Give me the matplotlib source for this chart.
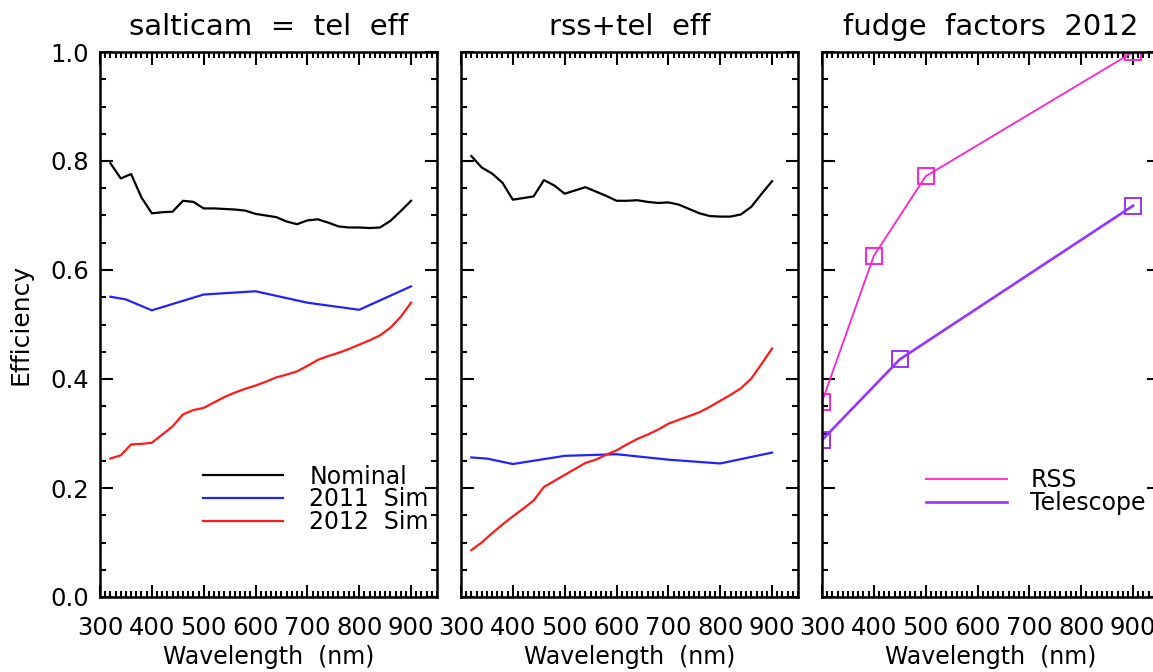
import matplotlib
matplotlib.use("Agg")
from matplotlib import pyplot as plt
import numpy as np

# wavelength grid for the simulated curves (nm)
wave = np.arange(320, 901, 20)

# panel 1: salticam = tel eff
salt_nominal = [0.796, 0.768, 0.776, 0.733, 0.704, 0.706, 0.707, 0.727, 0.725, 0.713,
                0.713, 0.712, 0.711, 0.709, 0.703, 0.700, 0.697, 0.689, 0.684, 0.691,
                0.693, 0.687, 0.680, 0.678, 0.678, 0.677, 0.678, 0.690, 0.708, 0.727]
salt_2012 = [0.254, 0.260, 0.280, 0.281, 0.283, 0.298, 0.313, 0.335, 0.343, 0.347,
             0.357, 0.367, 0.375, 0.382, 0.388, 0.395, 0.403, 0.408, 0.414, 0.424,
             0.435, 0.442, 0.448, 0.455, 0.463, 0.471, 0.480, 0.494, 0.514, 0.540]

# 2011 sims are on a coarser grid
wave_2011 = [320, 350, 400, 500, 600, 700, 800, 900]
salt_2011 = [0.551, 0.546, 0.526, 0.555, 0.561, 0.540, 0.527, 0.570]

# panel 2: rss+tel eff
rss_nominal = [0.809, 0.788, 0.777, 0.760, 0.729, 0.732, 0.735, 0.765, 0.755, 0.740,
               0.746, 0.752, 0.744, 0.736, 0.727, 0.727, 0.728, 0.725, 0.723, 0.724,
               0.720, 0.712, 0.704, 0.699, 0.698, 0.698, 0.702, 0.716, 0.740, 0.763]
rss_2012 = [0.086, 0.100, 0.117, 0.133, 0.148, 0.162, 0.177, 0.202, 0.213, 0.224,
            0.235, 0.246, 0.252, 0.261, 0.269, 0.280, 0.290, 0.298, 0.307, 0.318,
            0.325, 0.332, 0.339, 0.349, 0.360, 0.371, 0.383, 0.401, 0.428, 0.456]
rss_2011 = [0.256, 0.254, 0.244, 0.259, 0.262, 0.252, 0.245, 0.265]

# panel 3: fudge factors 2012
fudge_rss_wave = [300, 400, 500, 900]
fudge_rss = [0.358, 0.626, 0.772, 1.0]
fudge_tel_wave = [300, 450, 900]
fudge_tel = [0.288, 0.436, 0.718]

plt.rcParams['font.family'] = ['DejaVu Sans']

fig = plt.figure(figsize=(11.53, 6.72), dpi=100)

W, H = 1153.0, 672.0
bottom = 1 - 597 / H
height = (597 - 52) / H
width = (437 - 100) / W
lefts = [100 / W, 461 / W, 822 / W]
axes = [fig.add_axes([l, bottom, width, height]) for l in lefts]


def style_axis(ax, ylabels):
    ax.set_xlim(300, 950)
    ax.set_ylim(0, 1.0)
    ax.set_xticks(np.arange(300, 901, 100))
    ax.set_xticks(np.arange(300, 951, 10), minor=True)
    ax.set_yticks(np.arange(0, 1.01, 0.2))
    ax.set_yticks(np.arange(0, 1.01, 0.05), minor=True)
    ax.tick_params(which='both', direction='in', top=True, right=True, width=1.5)
    ax.tick_params(which='major', length=9, labelsize=17.5)
    ax.tick_params(which='minor', length=4)
    ax.tick_params(axis='x', which='major', pad=14)
    ax.tick_params(axis='y', which='major', pad=8)
    for s in ax.spines.values():
        s.set_linewidth(1.8)
    if ylabels:
        ax.set_yticklabels(['0.0', '0.2', '0.4', '0.6', '0.8', '1.0'])
    else:
        ax.set_yticklabels([])
    ax.set_xlabel('Wavelength  (nm)', fontsize=17, labelpad=3)


# salticam panel
ax = axes[0]
ax.plot(wave, salt_nominal, color='black', lw=1.6, label='Nominal')
ax.plot(wave_2011, salt_2011, color='#2222ff', lw=1.6, label='2011  Sim')
ax.plot(wave, salt_2012, color='#ff1a1a', lw=1.6, label='2012  Sim')
style_axis(ax, True)
ax.set_ylabel('Efficiency', fontsize=18, labelpad=13)
ax.set_title('salticam  =  tel  eff', fontsize=21, pad=12)
ax.legend(loc='upper left', bbox_to_anchor=(0.306, 0.243), frameon=False,
          fontsize=17, handlelength=3.4, handletextpad=1.1, labelspacing=-0.05,
          borderpad=0, borderaxespad=0)

# rss panel
ax = axes[1]
ax.plot(wave, rss_nominal, color='black', lw=1.6)
ax.plot(wave_2011, rss_2011, color='#2222ff', lw=1.6)
ax.plot(wave, rss_2012, color='#ff1a1a', lw=1.6)
style_axis(ax, False)
ax.set_title('rss+tel  eff', fontsize=21, pad=12)

# fudge factors panel
ax = axes[2]
ax.plot(fudge_rss_wave, fudge_rss, color='#ff22cc', lw=1.3, marker='s', ms=11,
        mfc='none', mew=1.4, label='RSS')
ax.plot(fudge_tel_wave, fudge_tel, color='#9933ff', lw=1.9, marker='s', ms=11,
        mfc='none', mew=1.4, label='Telescope')
style_axis(ax, False)
ax.set_title('fudge  factors  2012', fontsize=21, pad=12)
leg = ax.legend(loc='upper left', bbox_to_anchor=(0.31, 0.236), frameon=False,
                fontsize=17, handlelength=3.4, handletextpad=1.0, labelspacing=-0.05,
                borderpad=0, borderaxespad=0)
for h in leg.legend_handles:
    h.set_marker('')

fig.savefig('out.png', dpi=100)
